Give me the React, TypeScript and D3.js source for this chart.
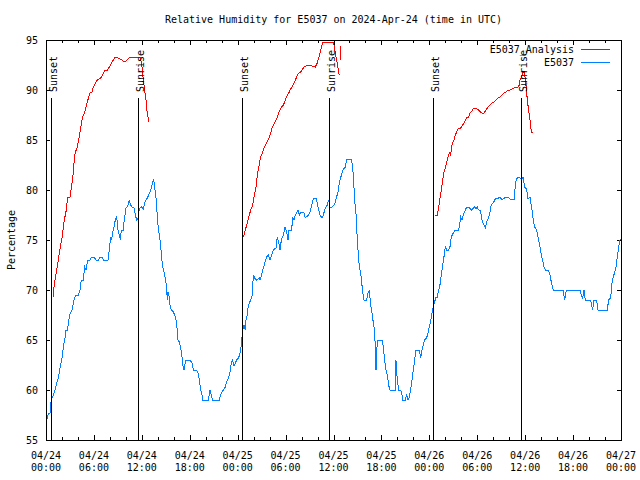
import React from "react";
import * as d3 from "d3";

// time in hours since 2024-04-24 00:00 UTC, relative humidity (%)
const e5037: [number, number][] = [
  [0, 57.0], [0.08, 57.0], [0.33, 57.7], [0.5, 57.7], [0.58, 58.7], [0.75, 59.2], [0.92, 59.5], [1.13, 60.0],
  [1.34, 60.7], [1.54, 61.2], [1.75, 62.2], [1.96, 63.0], [2.09, 63.7], [2.25, 64.7], [2.38, 65.2], [2.5, 66.0],
  [2.67, 66.0], [2.84, 66.7], [2.92, 67.5], [3.09, 67.7], [3.26, 68.0], [3.42, 68.7], [3.59, 69.2], [3.76, 69.5],
  [4.05, 69.5], [4.26, 70.0], [4.42, 71.0], [4.67, 71.0], [4.76, 71.7], [4.84, 72.3], [5.01, 72.0], [5.09, 72.5],
  [5.26, 73.0], [5.51, 73.0], [5.72, 73.3], [6.01, 73.3], [6.26, 73.0], [6.55, 73.0], [6.76, 73.3], [7.01, 73.3],
  [7.18, 73.0], [7.76, 73.0], [7.93, 74.0], [8.1, 75.3], [8.22, 75.0], [8.35, 75.8], [8.51, 76.3], [8.68, 77.0],
  [8.85, 77.3], [9.02, 76.0], [9.18, 75.5], [9.31, 75.0], [9.43, 76.0], [9.68, 76.0], [9.77, 76.8], [9.89, 77.5],
  [10.02, 78.2], [10.18, 78.3], [10.35, 78.7], [10.43, 79.0], [10.6, 78.5], [10.77, 78.3], [11.02, 78.2],
  [11.19, 77.5], [11.35, 77.0], [11.52, 77.2], [11.6, 77.8], [11.77, 78.2], [11.94, 78.3], [12.19, 78.1],
  [12.35, 78.7], [12.52, 79.0], [12.69, 79.2], [12.85, 79.5], [13.02, 79.8], [13.19, 80.2], [13.36, 80.8],
  [13.48, 81.1], [13.61, 80.2], [13.77, 79.3], [13.86, 78.2], [14.02, 76.5], [14.19, 75.5], [14.36, 74.5],
  [14.44, 73.5], [14.61, 72.3], [14.77, 71.8], [14.94, 71.2], [15.11, 70.2], [15.19, 69.0], [15.28, 69.8],
  [15.44, 69.3], [15.53, 68.5], [15.69, 68.0], [15.94, 67.8], [16.11, 67.5], [16.28, 67.0], [16.44, 66.0],
  [16.53, 65.0], [16.69, 64.8], [16.86, 64.2], [17.03, 63.3], [17.11, 62.5], [17.28, 62.0], [17.36, 62.5],
  [17.53, 63.0], [18.03, 63.0], [18.28, 62.7], [18.45, 62.0], [18.86, 62.0], [19.03, 61.7], [19.2, 61.0],
  [19.37, 60.0], [19.53, 59.5], [19.62, 59.0], [20.33, 59.0], [20.53, 60.0], [20.7, 59.5], [20.87, 59.0],
  [21.7, 59.0], [21.87, 59.5], [22.04, 59.8], [22.29, 60.1], [22.45, 60.3], [22.62, 60.8], [22.87, 61.2],
  [23.04, 61.8], [23.21, 62.7], [23.37, 63.0], [23.54, 62.4], [23.71, 62.7], [23.87, 63.0], [24.12, 63.2],
  [24.29, 63.7], [24.46, 64.5], [24.54, 65.3], [24.62, 66.0], [24.79, 66.5], [24.96, 66.0], [25.04, 67.0],
  [25.21, 67.5], [25.29, 68.2], [25.46, 68.7], [25.63, 69.0], [25.79, 69.3], [25.88, 70.3], [25.96, 71.5],
  [26.13, 71.2], [26.38, 71.0], [26.71, 71.2], [26.79, 71.0], [26.99, 71.5], [27.21, 72.2], [27.63, 73.3],
  [27.84, 73.5], [28.05, 73.0], [28.25, 73.5], [28.46, 74.0], [28.8, 74.2], [28.96, 75.3], [29.21, 74.5],
  [29.3, 74.0], [29.47, 75.0], [29.72, 75.5], [29.92, 76.3], [30.13, 75.8], [30.3, 75.0], [30.38, 76.0],
  [30.76, 76.0], [30.89, 77.3], [31.05, 77.0], [31.22, 77.5], [31.39, 77.7], [31.55, 78.0], [31.72, 77.5],
  [31.89, 77.8], [32.14, 77.8], [32.3, 77.7], [32.47, 77.2], [32.85, 77.5], [33.06, 77.8], [33.26, 78.5],
  [33.47, 79.1], [33.81, 79.2], [33.97, 78.7], [34.14, 78.0], [34.31, 77.5], [34.56, 77.2], [34.72, 77.5],
  [34.97, 78.2], [35.23, 78.5], [35.39, 79.0], [35.56, 78.2], [35.81, 78.3], [36.06, 78.5], [36.23, 78.8],
  [36.39, 79.3], [36.56, 79.8], [36.73, 80.7], [36.89, 81.2], [37.06, 81.7], [37.23, 82.1], [37.48, 82.3],
  [37.65, 83.1], [38.27, 83.1], [38.48, 81.5], [38.65, 79.0], [38.81, 77.7], [38.98, 75.0], [39.15, 73.0],
  [39.32, 72.0], [39.48, 71.2], [39.65, 69.8], [39.82, 69.0], [40.15, 69.0], [40.32, 69.7], [40.48, 70.0],
  [40.65, 68.5], [40.82, 67.7], [40.99, 66.7], [41.15, 66.0], [41.24, 64.0], [41.32, 62.0], [41.4, 64.0],
  [41.57, 65.0], [42.07, 65.0], [42.24, 64.3], [42.4, 63.0], [42.57, 62.0], [42.74, 61.5], [42.9, 60.5],
  [43.07, 60.0], [43.74, 60.0], [43.82, 63.0], [43.99, 61.0], [44.16, 60.0], [44.41, 60.0], [44.57, 59.5],
  [44.66, 59.0], [44.99, 59.0], [45.16, 59.5], [45.33, 59.0], [45.49, 59.3], [45.66, 60.0], [45.83, 61.0],
  [45.99, 62.0], [46.16, 63.0], [46.33, 64.0], [46.74, 64.0], [46.91, 63.2], [47.08, 64.0], [47.25, 64.5],
  [47.41, 65.0], [47.66, 65.2], [47.83, 65.7], [48.0, 66.3], [48.16, 66.8], [48.33, 67.7], [48.5, 68.3],
  [48.66, 68.8], [48.83, 69.3], [49.0, 69.3], [49.08, 69.7], [49.33, 70.5], [49.5, 71.5], [49.67, 72.5],
  [49.83, 73.3], [50.0, 74.3], [50.17, 74.0], [50.42, 74.0], [50.58, 74.3], [50.75, 75.3], [51.0, 75.7],
  [51.25, 76.0], [51.63, 76.0], [51.75, 76.3], [51.92, 77.3], [52.09, 77.0], [52.25, 77.5], [52.42, 77.8],
  [52.67, 78.3], [52.92, 78.3], [53.26, 78.0], [53.51, 78.2], [53.67, 78.3], [53.84, 78.1], [54.01, 78.3],
  [54.17, 78.0], [54.42, 77.9], [54.59, 77.0], [54.84, 76.5], [55.01, 76.2], [55.18, 76.8], [55.43, 77.2],
  [55.59, 77.8], [55.76, 78.5], [56.01, 78.7], [56.26, 79.1], [56.68, 79.2], [56.84, 79.3], [57.01, 79.1],
  [57.26, 79.1], [57.6, 79.3], [57.85, 79.3], [58.1, 79.1], [58.68, 79.1], [58.76, 80.7], [58.93, 81.1],
  [59.1, 81.3], [59.6, 81.1], [59.72, 81.3], [59.93, 80.3], [60.18, 80.1], [60.35, 79.1], [60.6, 79.3],
  [60.85, 78.0], [61.02, 77.0], [61.19, 76.3], [61.44, 76.0], [61.6, 75.3], [61.85, 74.3], [62.02, 73.5],
  [62.19, 73.0], [62.35, 72.3], [62.52, 72.0], [62.94, 71.9], [63.11, 71.5], [63.27, 70.8], [63.52, 70.0],
  [64.77, 70.0], [64.94, 69.0], [65.11, 69.8], [65.28, 70.0], [66.86, 70.0], [67.03, 69.5], [67.2, 69.2],
  [67.36, 70.0], [67.53, 69.0], [68.11, 69.0], [68.28, 68.7], [68.45, 68.0], [68.61, 69.0], [68.95, 69.0],
  [69.12, 68.0], [70.28, 68.0], [70.45, 69.0], [70.7, 69.2], [70.87, 70.7], [71.04, 71.3], [71.21, 71.8],
  [71.37, 72.3], [71.54, 73.3], [71.7, 74.3], [71.87, 75.0], [72.0, 75.1],
];

const analysisNight1: [number, number][] = [
  [0.92, 69.3], [1.0, 70.3], [1.17, 71.2], [1.34, 72.0], [1.5, 72.8], [1.67, 73.7], [1.84, 74.5], [2.0, 75.2],
  [2.17, 76.3], [2.34, 77.2], [2.5, 77.8], [2.59, 78.5], [2.75, 79.3], [3.01, 79.3], [3.09, 79.8], [3.26, 80.7],
  [3.42, 81.7], [3.51, 82.7], [3.67, 83.9], [3.84, 84.0], [4.01, 84.7], [4.17, 85.3], [4.34, 86.2], [4.51, 87.0],
  [4.67, 87.5], [4.84, 87.7], [5.01, 88.3], [5.18, 88.8], [5.34, 89.3], [5.51, 89.7], [5.76, 89.8], [5.93, 90.3],
  [6.18, 90.7], [6.43, 91.0], [6.68, 91.1], [6.93, 91.3], [7.18, 91.7], [7.43, 92.0], [7.68, 92.0], [7.93, 92.3],
  [8.18, 92.7], [8.43, 93.0], [8.68, 93.3], [8.85, 93.3], [9.27, 93.1], [9.52, 93.0], [9.77, 92.8], [10.02, 92.9],
  [10.27, 93.1], [10.6, 93.3], [11.35, 93.3], [11.6, 93.3], [11.85, 93.2], [11.94, 92.7], [12.02, 92.3],
  [12.19, 91.0], [12.35, 90.0], [12.52, 89.0], [12.6, 88.2], [12.77, 87.3], [12.85, 86.8],
];

const analysisNight2: [number, number][] = [
  [24.62, 75.2], [24.79, 75.5], [24.96, 76.0], [25.13, 76.5], [25.29, 77.0], [25.46, 77.5], [25.63, 78.0],
  [25.79, 78.3], [25.96, 78.8], [26.13, 79.7], [26.29, 80.2], [26.38, 80.8], [26.46, 81.5], [26.63, 82.2],
  [26.79, 83.0], [26.96, 83.5], [27.13, 83.7], [27.21, 84.0], [27.46, 84.5], [27.63, 84.7], [27.8, 85.0],
  [27.96, 85.3], [28.13, 85.7], [28.3, 86.2], [28.46, 86.5], [28.63, 86.7], [28.8, 87.0], [28.96, 87.3],
  [29.13, 87.7], [29.3, 88.0], [29.47, 88.3], [29.72, 88.5], [29.88, 88.8], [30.05, 89.2], [30.22, 89.5],
  [30.47, 89.8], [30.63, 90.1], [30.8, 90.3], [31.05, 90.7], [31.22, 91.0], [31.39, 91.3], [31.64, 91.7],
  [31.89, 91.8], [32.14, 92.1], [32.3, 92.3], [32.55, 92.4], [32.8, 92.5], [33.06, 92.5], [33.31, 92.4],
  [33.72, 92.3], [33.97, 92.7], [34.14, 93.2], [34.31, 93.7], [34.47, 94.2], [34.64, 94.7], [34.81, 94.8],
  [35.98, 94.8], [36.14, 94.2], [36.31, 93.3], [36.48, 92.7], [36.64, 91.8], [36.73, 91.5],
];

const analysisNight2Tail: [number, number][] = [
  [36.85, 94.4], [36.86, 93.0],
];

const analysisNight3: [number, number][] = [
  [48.71, 77.5], [49.0, 77.5], [49.17, 78.2], [49.33, 79.2], [49.5, 80.0], [49.67, 81.0], [49.83, 81.8],
  [50.0, 82.2], [50.17, 82.8], [50.33, 83.3], [50.5, 83.7], [50.67, 83.5], [50.83, 84.5], [51.09, 85.0],
  [51.25, 85.5], [51.42, 85.8], [51.67, 86.2], [51.92, 86.2], [52.17, 86.5], [52.42, 86.8], [52.67, 87.2],
  [52.92, 87.3], [53.09, 87.7], [53.26, 87.8], [53.51, 88.2], [53.76, 88.2], [54.01, 88.1], [54.26, 87.9],
  [54.59, 87.7], [54.84, 87.7], [55.09, 88.0], [55.34, 88.3], [55.59, 88.5], [55.84, 88.7], [56.09, 88.8],
  [56.34, 89.0], [56.59, 89.2], [56.84, 89.3], [57.09, 89.5], [57.35, 89.7], [57.6, 89.8], [57.85, 90.0],
  [58.1, 90.0], [58.35, 90.1], [58.6, 90.2], [58.85, 90.3], [59.1, 90.3], [59.27, 90.5], [59.35, 91.0],
  [59.52, 91.3], [59.68, 91.7], [59.85, 91.9], [59.93, 91.7], [60.02, 91.0], [60.1, 90.5], [60.18, 89.8],
  [60.27, 89.0], [60.43, 88.0], [60.6, 87.0], [60.77, 85.8], [60.94, 85.8],
];

const sunEvents: [number, string][] = [
  [0.59, "Sunset"], [11.56, "Sunrise"], [24.58, "Sunset"], [35.47, "Sunrise"], [48.5, "Sunset"], [59.52, "Sunrise"],
];

const xTickHours = [0, 6, 12, 18, 24, 30, 36, 42, 48, 54, 60, 66, 72];
const xTickDates = ["04/24", "04/24", "04/24", "04/24", "04/25", "04/25", "04/25", "04/25", "04/26", "04/26", "04/26", "04/26", "04/27"];
const xTickTimes = ["00:00", "06:00", "12:00", "18:00", "00:00", "06:00", "12:00", "18:00", "00:00", "06:00", "12:00", "18:00", "00:00"];
const yTicks = [55, 60, 65, 70, 75, 80, 85, 90, 95];

const title = "Relative Humidity for E5037 on 2024-Apr-24 (time in UTC)";
const yLabel = "Percentage";
const seriesNames = ["E5037_Analysis", "E5037"];
const RED = "#ff0000";
const BLUE = "#0080ff";

const W = 640, H = 480;
const L = 46, R = 621, T = 40, B = 440;
const FONT = "'DejaVu Sans Mono', 'Liberation Mono', monospace";

export default function App() {
  const x = d3.scaleLinear().domain([0, 72]).range([L, R]);
  const y = d3.scaleLinear().domain([55, 95]).range([B, T]);
  const line = d3.line<[number, number]>().x(d => x(d[0])).y(d => y(d[1]));
  const minorTicks = d3.range(0, 73, 2);

  return (
    <svg width={W} height={H} style={{ position: "absolute", left: 0, top: 0, background: "#fff" }}
      fontFamily={FONT} fontSize={10}>
      <rect x={0} y={0} width={W} height={H} fill="#fff" />
      <text x={(L + R) / 2} y={23} textAnchor="middle">{title}</text>

      {/* ticks */}
      <g stroke="#000" strokeWidth={1} shapeRendering="crispEdges">
        {minorTicks.map(h => {
          const len = h % 6 === 0 ? 5 : 3;
          const xx = Math.round(x(h)) + 0.5;
          return (
            <g key={"xt" + h}>
              <line x1={xx} x2={xx} y1={B} y2={B - len} />
              <line x1={xx} x2={xx} y1={T} y2={T + len} />
            </g>
          );
        })}
        {yTicks.map(v => {
          const yy = Math.round(y(v)) + 0.5;
          return (
            <g key={"yt" + v}>
              <line x1={L} x2={L + 4} y1={yy} y2={yy} />
              <line x1={R} x2={R - 4} y1={yy} y2={yy} />
            </g>
          );
        })}
      </g>

      {/* tick labels */}
      {yTicks.map(v => (
        <text key={"yl" + v} x={38} y={y(v) + 4} textAnchor="end">{v}</text>
      ))}
      {xTickHours.map((h, i) => (
        <g key={"xl" + h}>
          <text x={x(h)} y={459} textAnchor="middle">{xTickDates[i]}</text>
          <text x={x(h)} y={471} textAnchor="middle">{xTickTimes[i]}</text>
        </g>
      ))}
      <text transform={`translate(15,${(T + B) / 2}) rotate(-90)`} textAnchor="middle">{yLabel}</text>

      {/* data */}
      <g fill="none" strokeWidth={1} shapeRendering="crispEdges">
        <path d={line(e5037) || ""} stroke={BLUE} />
        {[analysisNight1, analysisNight2, analysisNight2Tail, analysisNight3].map((seg, i) => (
          <path key={"a" + i} d={line(seg) || ""} stroke={RED} />
        ))}
      </g>

      {/* sunrise / sunset markers */}
      {sunEvents.map(([h, label], i) => {
        const xx = Math.round(x(h)) + 0.5;
        return (
          <g key={"sun" + i}>
            <line x1={xx} x2={xx} y1={98} y2={B} stroke="#000" shapeRendering="crispEdges" />
            <text transform={`translate(${xx + 5},92) rotate(-90)`} textAnchor="start">{label}</text>
          </g>
        );
      })}

      {/* legend */}
      <text x={574} y={53} textAnchor="end">{seriesNames[0]}</text>
      <line x1={581} x2={610} y1={49.5} y2={49.5} stroke={RED} shapeRendering="crispEdges" />
      <text x={574} y={66} textAnchor="end">{seriesNames[1]}</text>
      <line x1={581} x2={610} y1={62.5} y2={62.5} stroke={BLUE} shapeRendering="crispEdges" />

      {/* frame */}
      <rect x={L + 0.5} y={T + 0.5} width={R - L} height={B - T} fill="none" stroke="#000" shapeRendering="crispEdges" />
    </svg>
  );
}
